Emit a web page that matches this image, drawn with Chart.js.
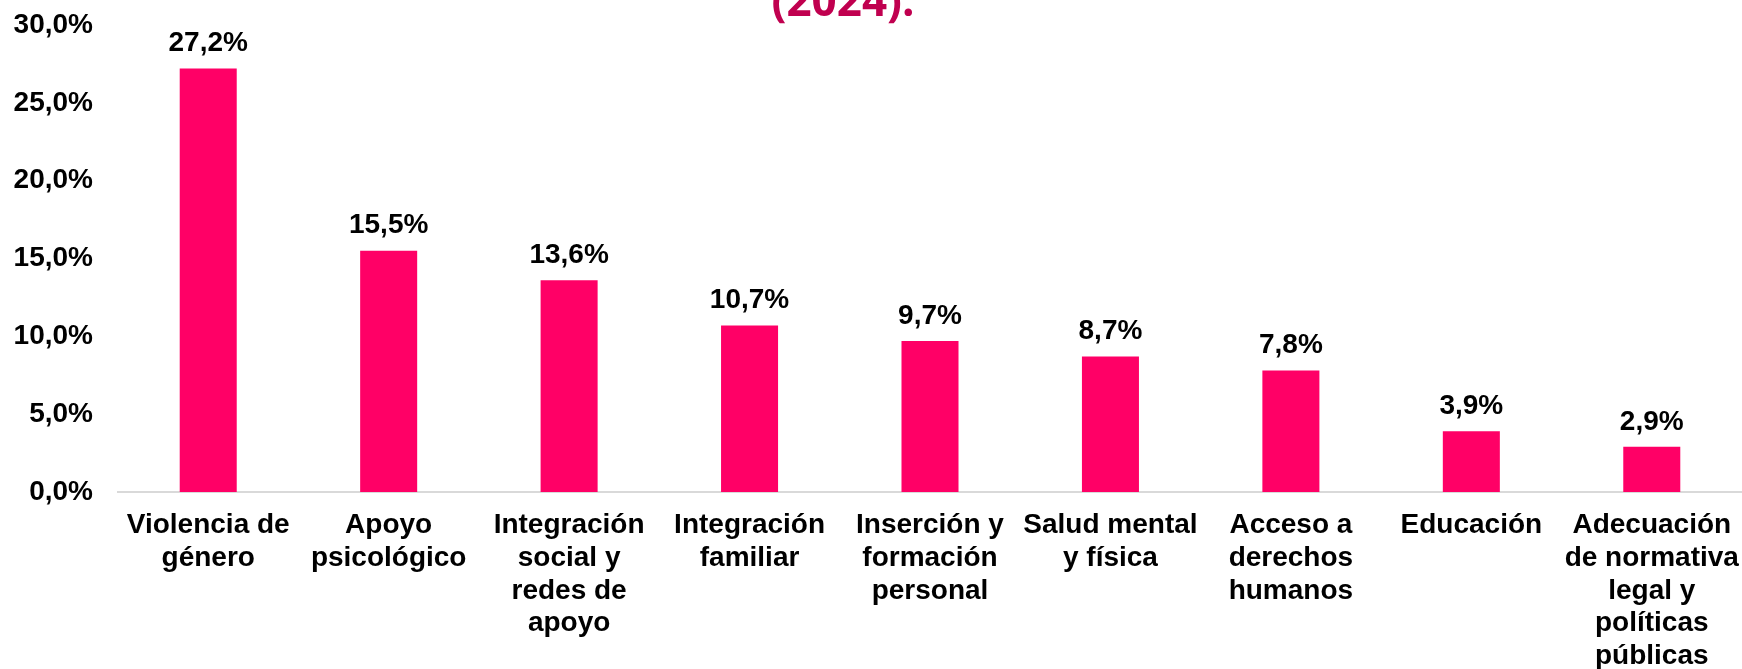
<!DOCTYPE html>
<html>
<head>
<meta charset="utf-8">
<script src="https://cdn.jsdelivr.net/npm/chart.js@4"></script>
<style>
  html, body { margin: 0; padding: 0; background: #fff; }
  #wrap { width: 1742px; height: 669px; }
</style>
</head>
<body>
<div id="wrap"><canvas id="chart"></canvas></div>
<script>
const categories = [
  ['Violencia de', 'género'],
  ['Apoyo', 'psicológico'],
  ['Integración', 'social y', 'redes de', 'apoyo'],
  ['Integración', 'familiar'],
  ['Inserción y', 'formación', 'personal'],
  ['Salud mental', 'y física'],
  ['Acceso a', 'derechos', 'humanos'],
  ['Educación'],
  ['Adecuación', 'de normativa', 'legal y', 'políticas', 'públicas'],
];
const percentages = [27.2, 15.5, 13.6, 10.7, 9.7, 8.7, 7.8, 3.9, 2.9];
const titleTail = '(2024).';

const fmt = (v) => v.toFixed(1).replace('.', ',') + '%';

const barColor = '#FF0066';
const font = { family: '"Liberation Sans", Arial, sans-serif', size: 28, weight: 'bold' };

// value labels above each bar
const barValues = {
  id: 'barValues',
  afterDatasetsDraw(chart) {
    const { ctx } = chart;
    const meta = chart.getDatasetMeta(0);
    ctx.save();
    ctx.font = `bold ${font.size}px ${font.family}`;
    ctx.fillStyle = '#000';
    ctx.textAlign = 'center';
    ctx.textBaseline = 'middle';
    meta.data.forEach((bar, i) => {
      ctx.fillText(fmt(chart.data.datasets[0].data[i]), bar.x, bar.y - 25);
    });
    ctx.restore();
  },
};

// last line of the title, cut off at the top of the picture
const titleLine = {
  id: 'titleLine',
  afterDraw(chart) {
    const { ctx } = chart;
    ctx.save();
    ctx.font = 'bold 44px "Open Sans", sans-serif';
    ctx.fillStyle = '#C0004F';
    ctx.textAlign = 'center';
    ctx.textBaseline = 'alphabetic';
    ctx.fillText(titleTail, 843, 16);
    ctx.restore();
  },
};

new Chart(document.getElementById('chart'), {
  type: 'bar',
  data: {
    labels: categories,
    datasets: [
      {
        data: percentages,
        backgroundColor: barColor,
        barPercentage: 0.316,
        categoryPercentage: 1,
      },
    ],
  },
  plugins: [barValues, titleLine],
  options: {
    responsive: true,
    maintainAspectRatio: false,
    animation: false,
    layout: {
      padding: { top: 25, left: 0, right: 0, bottom: 0 },
    },
    plugins: {
      legend: { display: false },
      tooltip: { enabled: false },
    },
    scales: {
      x: {
        grid: { display: false, drawTicks: false },
        border: { display: true, color: '#D9D9D9', width: 2 },
        ticks: {
          color: '#000',
          font: { ...font, lineHeight: 1.17 },
          padding: 17,
          maxRotation: 0,
          autoSkip: false,
        },
        afterFit(scale) {
          scale.height = 177;
          scale.paddingLeft = 0;
          scale.paddingRight = 0;
        },
      },
      y: {
        min: 0,
        max: 30,
        grid: { display: false, drawTicks: false },
        border: { display: false },
        ticks: {
          stepSize: 5,
          color: '#000',
          font: font,
          padding: 25,
          callback: (v) => fmt(v),
        },
        afterFit(scale) {
          scale.width = 118;
          scale.paddingTop = 0;
          scale.paddingBottom = 0;
        },
      },
    },
  },
});
</script>
</body>
</html>
